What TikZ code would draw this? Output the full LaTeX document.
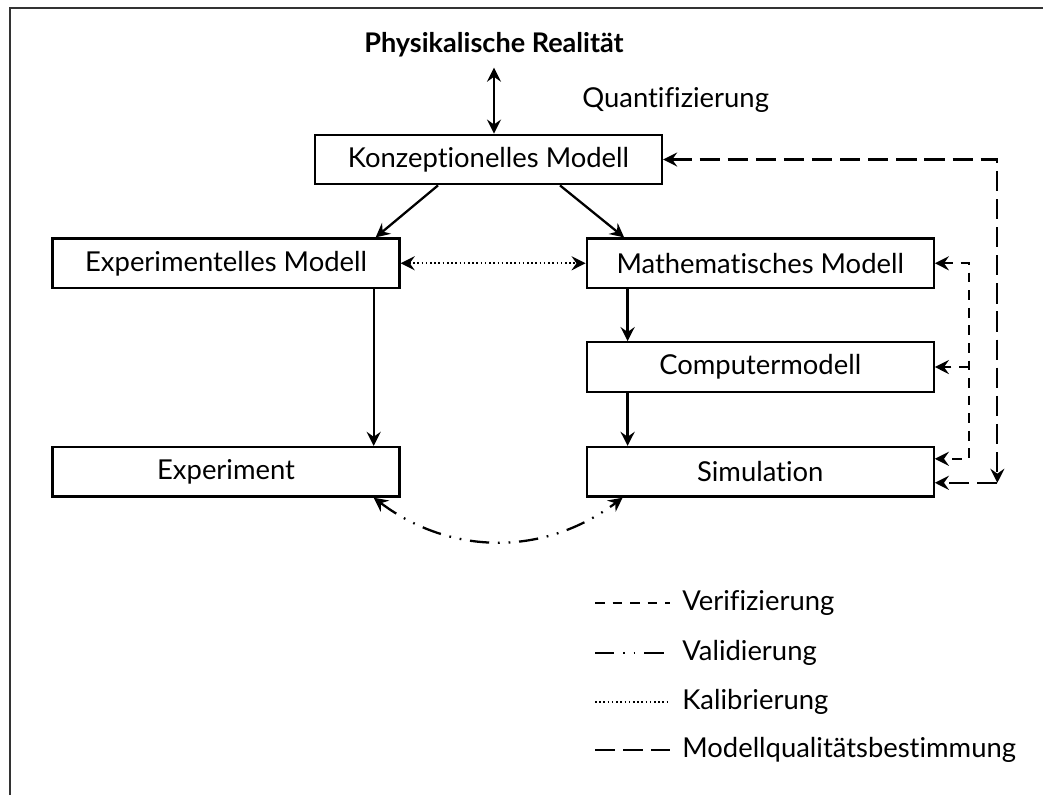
\documentclass[tikz,border=0pt]{standalone}
\usepackage{fontspec}
\setmainfont{Lato}[Ligatures=CommonOff]
\usetikzlibrary{positioning, arrows.meta}

\tikzset{
  >={Stealth[length=8pt, width=8pt, inset=2.8pt]},
  model/.style={draw, line width=1.3pt, minimum width=6.94cm, minimum height=0.99cm,
    inner sep=0pt, font=\fontsize{15.6}{18}\selectfont},
  caption/.style={inner sep=0pt, font=\fontsize{15.6}{18}\selectfont},
  flow/.style={line width=1.3pt, ->},
  verif/.style={line width=1.3pt, dash pattern=on 5.5pt off 4.5pt},
  valid/.style={line width=1.3pt, dash pattern=on 11pt off 5pt on 1pt off 5pt on 1pt off 5pt},
  calib/.style={line width=1.3pt, dash pattern=on 0.9pt off 1.5pt},
  mq/.style={line width=1.3pt, dash pattern=on 11.5pt off 4.5pt}
}

\begin{document}
\begin{tikzpicture}[x=0.02cm, y=-0.02cm]

  \useasboundingbox (0,0) rectangle (1043,795);
  \draw[line width=1.2pt, black!80] (10,795) -- (10,8) -- (1043,8);

  \node[model] (konz) at (488.5,159.5) {Konzeptionelles Modell};
  \node[caption, font=\fontsize{15.4}{18}\bfseries] (real) at (494,45) {Physikalische Realität};
  \node[caption, anchor=west] (quant) at (582,100) {Quantifizierung};

  \node[model, below=1.04cm of konz, xshift=-5.25cm] (exp) {Experimentelles Modell};
  \node[model, right=3.7cm of exp] (math) {Mathematisches Modell};
  \node[model, below=1.04cm of math] (comp) {Computermodell};
  \node[model, below=1.06cm of comp] (sim) {Simulation};
  \node[model, left=3.7cm of sim] (expt) {Experiment};

  %==================================================

  \draw[flow, <->] ([yshift=-0.2cm]real.south) -- (real.south |- konz.north);
  \draw[flow] ([xshift=-1.01cm]konz.south) -- ([xshift=-0.5cm]exp.north east);
  \draw[flow] ([xshift=1.43cm]konz.south) -- ([xshift=0.77cm]math.north west);
  \draw[flow] ([xshift=-0.54cm]exp.south east) -- ([xshift=-0.54cm]expt.north east);
  \draw[flow] ([xshift=0.84cm]math.south west) -- ([xshift=0.84cm]comp.north west);
  \draw[flow] ([xshift=0.84cm]comp.south west) -- ([xshift=0.84cm]sim.north west);

  \draw[calib, <->] (exp) -- (math);

  \coordinate (vtop) at ([xshift=0.68cm]math.east);
  \draw[verif, <->] (math.east) -- (vtop) |- ([yshift=0.26cm]sim.east);
  \draw[verif, ->] (vtop |- comp.east) -- (comp.east);

  \coordinate (mbot) at ([xshift=1.25cm, yshift=-0.22cm]sim.east);
  \draw[mq, <->] (konz.east) -| (mbot);
  \draw[mq, ->] (mbot) -- (mbot -| sim.east);

  \draw[valid, <->] ([xshift=-0.54cm]expt.south east) to[bend right=37] ([xshift=0.74cm]sim.south west);

  %==================================================

  \node[caption, anchor=west] (l_verif) at (682,603) {Verifizierung};
  \node[caption, anchor=west] (l_valid) at (682,653) {Validierung};
  \node[caption, anchor=west] (l_calib) at (682,702) {Kalibrierung};
  \node[caption, anchor=west] (l_mq) at (682,750) {Modellqualitätsbestimmung};

  \draw[verif] ([xshift=-1.74cm]l_verif.west) -- ([xshift=-0.24cm]l_verif.west);
  \draw[valid] ([xshift=-1.74cm]l_valid.west) -- ([xshift=-0.24cm]l_valid.west);
  \draw[calib] ([xshift=-1.74cm]l_calib.west) -- ([xshift=-0.24cm]l_calib.west);
  \draw[mq] ([xshift=-1.74cm]l_mq.west) -- ([xshift=-0.24cm]l_mq.west);

\end{tikzpicture}
\end{document}
